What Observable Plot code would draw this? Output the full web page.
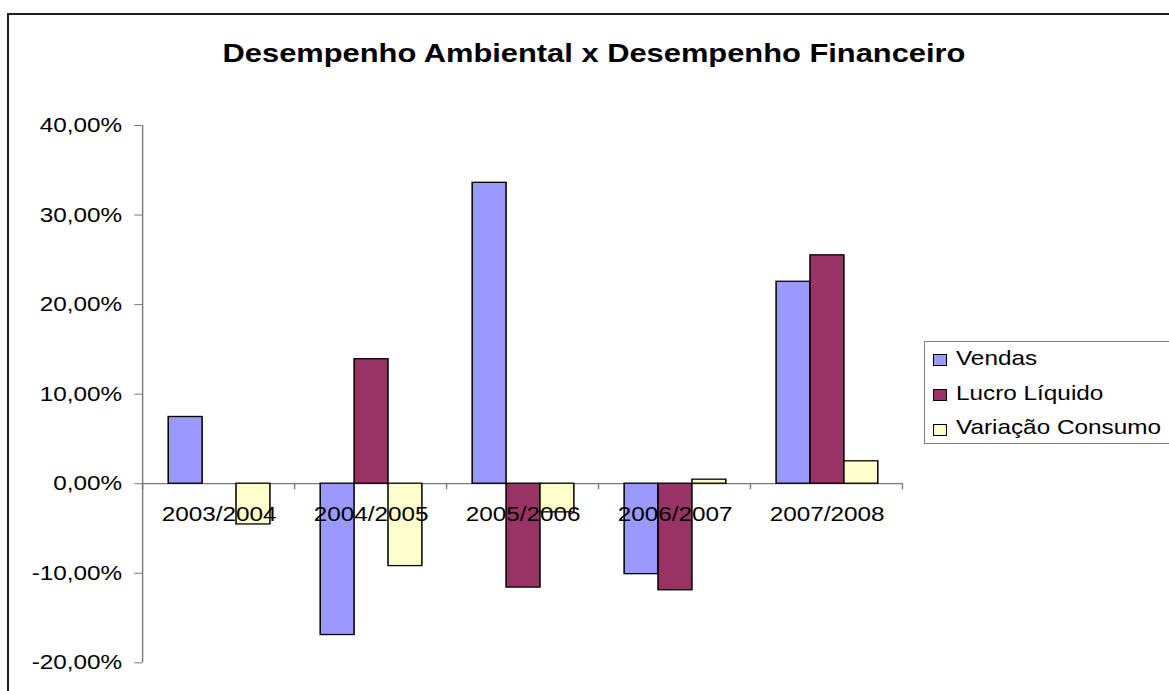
<!DOCTYPE html>
<html>
<head>
<meta charset="utf-8">
<script src="https://cdn.jsdelivr.net/npm/d3@7"></script>
<script src="https://cdn.jsdelivr.net/npm/@observablehq/plot@0.6"></script>
<style>
  html, body { margin: 0; padding: 0; background: #fff; }
  #wrap { position: relative; width: 1169px; height: 691px; overflow: hidden; background: #fff;
          font-family: "Liberation Sans", Arial, sans-serif; color: #000; }
  #frame { position: absolute; left: 7px; top: 13px; width: 1250px; height: 760px;
           border: 2px solid #1e1e1e; box-sizing: border-box; pointer-events: none; }
  #header { position: relative; height: 100px; }
  #title { position: absolute; left: 0; width: 1188px; top: 39.7px; text-align: center;
           font-weight: bold; font-size: 26.4px; line-height: 26.4px; white-space: nowrap;
           transform: scaleX(1.169); transform-origin: 50% 50%; }
  #chart svg { display: block; }
  #legend { position: absolute; left: 924px; top: 341px; width: 300px; height: 103px;
            border: 1px solid #808080; box-sizing: border-box; background: #fff; }
  .lg-sw { position: absolute; width: 14px; height: 12px; border: 1px solid #000; box-sizing: border-box; }
  .lg-tx { position: absolute; height: 24px; line-height: 24px; font-size: 20.8px; white-space: nowrap;
           transform: scaleX(1.169); transform-origin: 0 50%; }
</style>
</head>
<body>
<div id="wrap">
  <div id="header"><div id="title">Desempenho Ambiental x Desempenho Financeiro</div></div>
  <div id="chart"></div>
  <div id="legend"></div>
  <div id="frame"></div>
</div>
<script>
// ---- data ----
const categories = ["2003/2004", "2004/2005", "2005/2006", "2006/2007", "2007/2008"];
const series = ["Vendas", "Lucro Líquido", "Variação Consumo"];
const vendas  = [0.0745, -0.169, 0.336, -0.101, 0.2255];
const lucro   = [null, 0.139, -0.116, -0.119, 0.255];
const consumo = [-0.0455, -0.092, -0.032, 0.0045, 0.025];
const colors = ["#9999FF", "#993366", "#FFFFCC"];
const yTicks = [-0.2, -0.1, 0, 0.1, 0.2, 0.3, 0.4];

const valuesBySeries = [vendas, lucro, consumo];
const table = [];
categories.forEach((c, i) => {
  series.forEach((s, j) => {
    const v = valuesBySeries[j][i];
    if (v !== null) table.push({category: c, serie: s, value: v});
  });
});

const fmt = d => (d * 100).toFixed(2).replace(".", ",") + "%";

const W = 1000, H = 591, SX = 1.169;

const plot = Plot.plot({
  width: W,
  height: H,
  marginTop: 25,
  marginBottom: 28.7,
  marginLeft: 122.1,
  marginRight: 227.5,
  style: {fontFamily: "'Liberation Sans', Arial, sans-serif", fontSize: "20.8px", color: "#000", background: "transparent", overflow: "visible"},
  fx: {domain: categories, padding: 0, axis: null, label: null},
  x: {domain: series, paddingInner: 0, paddingOuter: 0.73, axis: null, label: null},
  y: {domain: [-0.2, 0.4], axis: null, label: null},
  color: {domain: series, range: colors},
  marks: [
    Plot.axisY({ticks: yTicks, tickFormat: fmt, tickSize: 7.2, tickPadding: 10.8, label: null, fill: "#000", stroke: "#7a7a7a", fontSize: 20.8}),
    Plot.ruleY([0], {stroke: "#7a7a7a", strokeWidth: 1.2}),
    Plot.barY(table, {fx: "category", x: "serie", y: "value", fill: "serie", stroke: "#000", strokeWidth: 1.3}),
    Plot.text(categories, {fx: d => d, y: 0, text: d => d, dy: 31, fill: "#000", fontSize: 20.8})
  ]
});

const svg = d3.select(plot);
svg.attr("width", W * SX).attr("height", H)
   .attr("viewBox", `0 0 ${W} ${H}`)
   .attr("preserveAspectRatio", "none");

// axis line and category-boundary ticks drawn from the library's scales
const fx = plot.scale("fx");
const y = plot.scale("y");
const xStart = fx.apply(categories[0]);
const xEnd = fx.apply(categories[categories.length - 1]) + fx.bandwidth;
const g = svg.append("g").attr("stroke", "#7a7a7a").attr("stroke-width", 1.2);
g.append("line").attr("x1", xStart).attr("x2", xStart).attr("y1", y.apply(yTicks[yTicks.length - 1])).attr("y2", y.apply(yTicks[0]));
const bounds = categories.map(c => fx.apply(c)).concat([xEnd]);
g.selectAll("line.b").data(bounds).join("line").attr("class", "b")
  .attr("x1", d => d).attr("x2", d => d)
  .attr("y1", y.apply(0)).attr("y2", y.apply(0) + 6);

// make text draw over bars: move text group of categories to end (already last mark)
document.getElementById("chart").appendChild(plot);

// legend
const legend = document.getElementById("legend");
const swTops = [354, 389, 424];
const baselines = [365, 400, 434.5];
series.forEach((s, i) => {
  const sw = document.createElement("div");
  sw.className = "lg-sw";
  sw.style.left = (933 - 925) + "px";
  sw.style.top = (swTops[i] - 342) + "px";
  sw.style.background = colors[i];
  legend.appendChild(sw);
  const tx = document.createElement("div");
  tx.className = "lg-tx";
  tx.style.left = (956 - 925) + "px";
  tx.style.top = (baselines[i] - 19.2 - 342) + "px";
  tx.textContent = s;
  legend.appendChild(tx);
});
</script>
</body>
</html>
